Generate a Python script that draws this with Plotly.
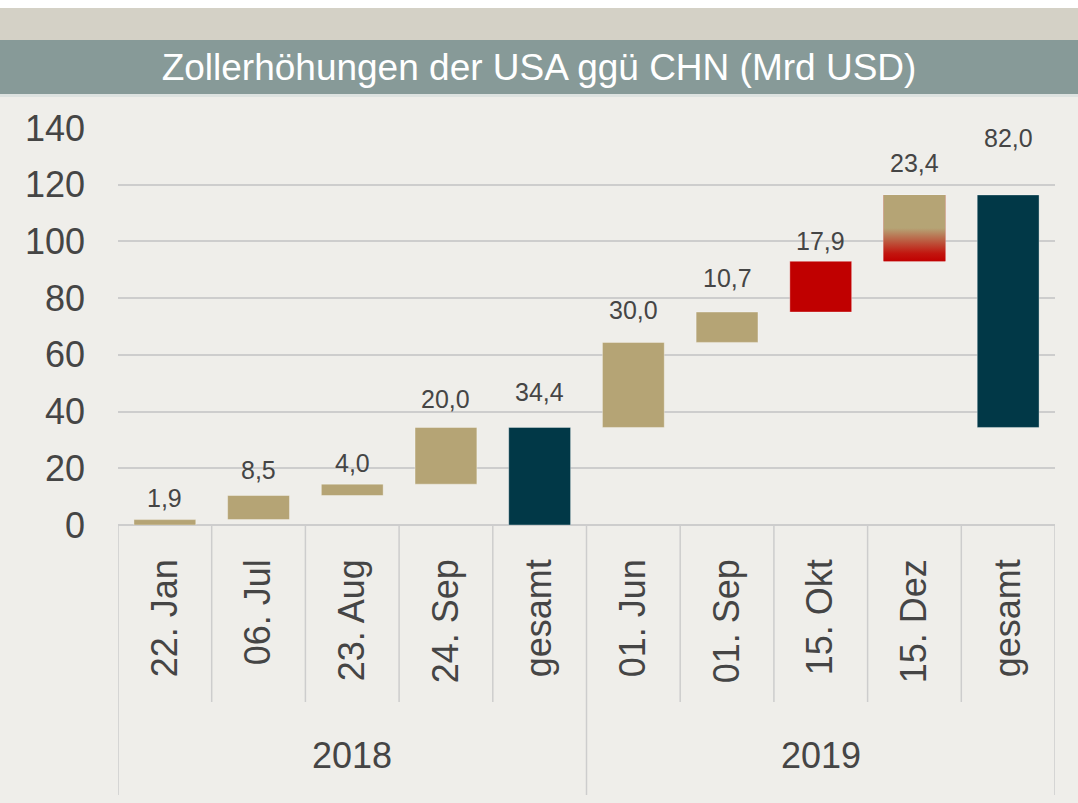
import plotly.graph_objects as go

# ---------------- data ----------------
years = ["2018"] * 5 + ["2019"] * 5
labels = ["22. Jan", "06. Jul", "23. Aug", "24. Sep", "gesamt",
          "01. Jun", "01. Sep", "15. Okt", "15. Dez", "gesamt"]
values = [1.9, 8.5, 4.0, 20.0, 34.4, 30.0, 10.7, 17.9, 23.4, 82.0]
kinds = ["inc", "inc", "inc", "inc", "total", "inc", "inc", "inc", "inc", "total"]
y_ticks = [0, 20, 40, 60, 80, 100, 120, 140]
title_text = "Zollerhöhungen der USA ggü CHN (Mrd USD)"

# ---------------- styles ----------------
TAN = "#b5a475"
RED = "#c00000"
NAVY = "#013847"
bar_colors = [TAN, TAN, TAN, TAN, NAVY, TAN, TAN, RED, RED, NAVY]
gradient_idx = 8
label_shift = [22, 26, 21, 28, 35, 32, 34, 20, 32, 57]
FONT = "Liberation Sans, Arial, sans-serif"
TXT = "#454545"
GRID = "#cdcdcd"
BAR_W = 0.66

W, H = 1078, 803
ML, MR, MT, MB = 118, 23, 128, 278
PW, PH = W - ML - MR, H - MT - MB


def py(px):
    return (H - MB - px) / PH


def pxp(px):
    return (px - ML) / PW


n = len(values)
xs = list(range(n))

# waterfall bases
bases = []
level = 0.0
start = 0.0
for v, k in zip(values, kinds):
    if k == "inc":
        bases.append(level)
        level += v
    else:
        bases.append(start)
        start = level
tops = [b + v for b, v in zip(bases, values)]

fig = go.Figure()
fig.add_trace(go.Bar(
    x=xs, y=values, base=bases,
    marker=dict(color=bar_colors, line=dict(color="rgba(255,255,255,0.35)", width=1)),
    width=BAR_W, hoverinfo="skip", showlegend=False,
))

# gradient bar (15. Dez)
i = gradient_idx
b, t = bases[i], tops[i]
fig.add_trace(go.Scatter(
    x=[i - BAR_W / 2, i + BAR_W / 2, i + BAR_W / 2, i - BAR_W / 2, i - BAR_W / 2],
    y=[b, b, t, t, b],
    mode="lines", line=dict(width=0),
    fill="toself",
    fillgradient=dict(type="vertical",
                      colorscale=[[0, "#c00000"], [0.12, "#c2160f"], [0.5, TAN], [1, TAN]]),
    hoverinfo="skip", showlegend=False,
))

annotations = []
for k, (v, t) in enumerate(zip(values, tops)):
    annotations.append(dict(
        x=xs[k], y=t, xref="x", yref="y", text=f"{v:.1f}".replace(".", ","),
        showarrow=False, yanchor="middle", yshift=label_shift[k],
        font=dict(family=FONT, size=25, color=TXT),
    ))

# year group labels
groups = []
for k, yr in enumerate(years):
    if not groups or groups[-1][0] != yr:
        groups.append([yr, k, k])
    else:
        groups[-1][2] = k
for yr, k0, k1 in groups:
    annotations.append(dict(
        x=(xs[k0] + xs[k1]) / 2, y=py(755), xref="x", yref="paper", text=yr,
        showarrow=False, yanchor="middle", xanchor="center",
        font=dict(family=FONT, size=36, color=TXT),
    ))

shapes = [
    dict(type="rect", xref="paper", yref="paper", x0=pxp(0), x1=pxp(W), y0=py(8), y1=py(0),
         fillcolor="white", line=dict(width=0), layer="below"),
    dict(type="rect", xref="paper", yref="paper", x0=pxp(0), x1=pxp(W), y0=py(40), y1=py(8),
         fillcolor="#d4d1c6", line=dict(width=0), layer="below"),
    dict(type="rect", xref="paper", yref="paper", x0=pxp(0), x1=pxp(W), y0=py(94), y1=py(40),
         fillcolor="#879a98", line=dict(width=0), layer="below"),
    dict(type="rect", xref="paper", yref="paper", x0=pxp(0), x1=pxp(W), y0=py(97), y1=py(94),
         fillcolor="#dde2e0", line=dict(width=0), layer="below"),
]
group_edges = [-0.5] + [k + 0.5 for k in range(n - 1) if years[k] != years[k + 1]] + [n - 0.5]
for k in range(n - 1):
    xb = k + 0.5
    if xb in group_edges:
        continue
    shapes.append(dict(type="line", xref="x", yref="paper", x0=xb, x1=xb, y0=py(525), y1=py(702),
                       line=dict(color=GRID, width=1.5)))
for xb in group_edges:
    shapes.append(dict(type="line", xref="x", yref="paper", x0=xb, x1=xb, y0=py(525), y1=py(795),
                       line=dict(color=GRID, width=1.5)))

fig.update_layout(
    width=W, height=H,
    margin=dict(l=ML, r=MR, t=MT, b=MB),
    paper_bgcolor="#efeeea", plot_bgcolor="rgba(0,0,0,0)",
    title=dict(text=title_text, x=0.5, xref="container", xanchor="center",
               y=1 - 67 / H, yref="container", yanchor="middle",
               font=dict(family=FONT, size=37, color="white")),
    xaxis=dict(range=[-0.5, n - 0.5], tickvals=xs, ticktext=labels, tickangle=-90,
               showgrid=False, showline=False, zeroline=False, ticks="",
               tickfont=dict(family=FONT, size=36, color=TXT), ticklabelstandoff=26),
    yaxis=dict(range=[0, 140], tickvals=y_ticks, showgrid=True, gridcolor=GRID, gridwidth=1.5,
               zeroline=True, zerolinecolor=GRID, zerolinewidth=1.5, showline=False,
               tickfont=dict(family=FONT, size=36, color=TXT), ticklabelstandoff=32),
    shapes=shapes, annotations=annotations,
)

fig.write_html("out.html", config={"displayModeBar": False},
               post_script="document.body.style.margin='0';document.body.style.padding='0';")
